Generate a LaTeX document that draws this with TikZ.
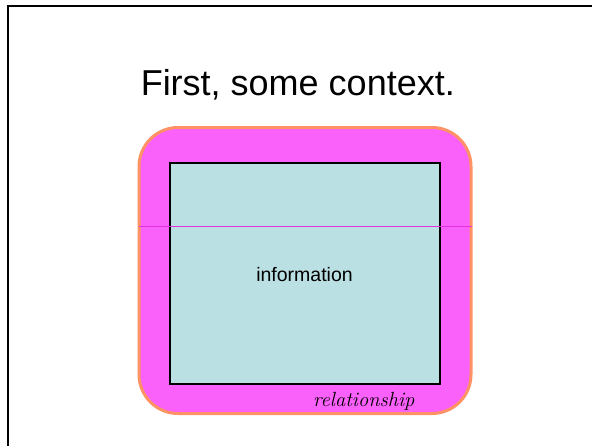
\documentclass[tikz,border=0pt]{standalone}
\usepackage{fontspec}
\setmainfont{Liberation Sans}
\newfontfamily\relfont{Latin Modern Roman}
\definecolor{relpink}{RGB}{250,96,250}
\definecolor{relorange}{RGB}{255,146,100}
\definecolor{infocyan}{RGB}{187,224,227}
\definecolor{splitline}{RGB}{225,50,225}
\tikzset{
  slideframe/.style={line width=2.3pt, draw=black},
  relbox/.style={fill=relpink, draw=relorange, line width=3pt, rounded corners=39pt},
  infobox/.style={fill=infocyan, draw=black, line width=2pt},
  divider/.style={draw=splitline, line width=0.9pt},
  title/.style={font=\fontsize{36}{40}\selectfont, anchor=base, inner sep=0pt},
  label/.style={font=\fontsize{19.5}{22}\selectfont, anchor=base, inner sep=0pt},
  rellabel/.style={font=\relfont\itshape\fontsize{20.5}{24}\selectfont, anchor=base west, inner sep=0pt}
}
\begin{document}
\begin{tikzpicture}[x=1pt, y=-1pt]
  \useasboundingbox (0,0) rectangle (592,445);
  % slide frame, running off the right and bottom edges
  \draw[slideframe] (7.8,460) -- (7.8,6.2) -- (610,6.2);
  % title
  \node[title] (heading) at (297.8,95) {First, some context.};
  % relationship: rounded outer region
  \draw[relbox] (139,127.5) rectangle (471,413.5);
  % information: inner box
  \draw[infobox] (169.5,163) rectangle (440,384);
  % horizontal divider across both regions
  \coordinate (divL) at (138.5,226.5);
  \coordinate (divR) at (471.5,226.5);
  \draw[divider] (divL) -- (divR);
  % labels
  \node[label] (info) at (304.5,281.7) {information};
  \node[rellabel] (rel) at (313,406) {relationship};
\end{tikzpicture}
\end{document}
